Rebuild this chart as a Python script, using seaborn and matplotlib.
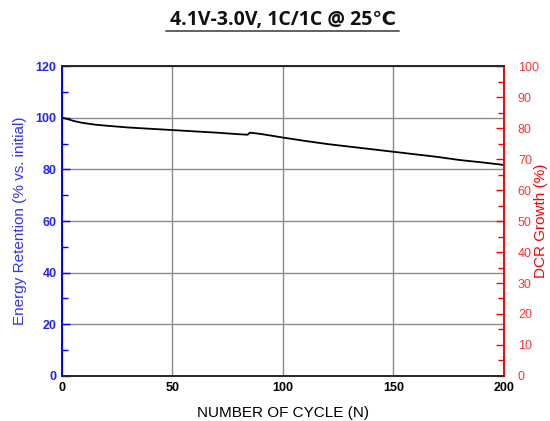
import matplotlib
matplotlib.use("Agg")
import matplotlib.pyplot as plt
import seaborn as sns
import pandas as pd
from matplotlib.ticker import MultipleLocator
from matplotlib.lines import Line2D

# cycle data
cycle = [0, 2, 5, 8, 10, 15, 20, 30, 40, 50, 60, 70, 80, 84, 85, 90, 100,
         110, 120, 130, 140, 150, 160, 170, 180, 190, 200]
energy = [100, 99.6, 98.8, 98.2, 97.9, 97.3, 96.9, 96.2, 95.7, 95.2, 94.7, 94.2,
          93.6, 93.4, 94.2, 93.7, 92.3, 91.0, 89.8, 88.8, 87.8, 86.8, 85.8,
          84.8, 83.6, 82.7, 81.7]

df = pd.DataFrame({"cycle": cycle, "energy": energy})

sns.set_style("white")
plt.rcParams['font.family'] = ['Liberation Sans', 'DejaVu Sans']

fig = plt.figure(figsize=(5.5, 4.21), dpi=100)
ax = fig.add_axes([0.1127, 0.1069, 0.8036, 0.7363])

sns.lineplot(data=df, x="cycle", y="energy", ax=ax, color="black", linewidth=1.3)

ax.set_xlim(0, 200)
ax.set_ylim(0, 120)
ax.xaxis.set_major_locator(MultipleLocator(50))
ax.xaxis.set_minor_locator(MultipleLocator(25))
ax.yaxis.set_major_locator(MultipleLocator(20))
ax.yaxis.set_minor_locator(MultipleLocator(10))
ax.grid(True, which="major", color="#8c8c8c", linewidth=1)
ax.tick_params(which="both", direction="in", top=False, right=False)
ax.tick_params(which="major", length=6, width=1)
ax.tick_params(which="minor", length=4, width=1)
ax.tick_params(axis="y", which="both", colors="blue", labelcolor="#2222ff", pad=4)
ax.tick_params(axis="x", which="both", colors="black", pad=4)
for lab in ax.get_xticklabels() + ax.get_yticklabels():
    lab.set_fontweight("bold")
    lab.set_fontsize(9)

ax.spines["left"].set_color("blue")
ax.spines["right"].set_color("red")
for s in ax.spines.values():
    s.set_linewidth(1.2)

ax.set_xlabel("NUMBER OF CYCLE (N)", fontsize=11, color="black", labelpad=9)
ax.set_ylabel("Energy Retention (% vs. initial)", fontsize=11, color="#3333ff", labelpad=6)

ax2 = ax.twinx()
ax2.set_ylim(0, 100)
ax2.yaxis.set_major_locator(MultipleLocator(10))
ax2.yaxis.set_minor_locator(MultipleLocator(5))
ax2.tick_params(which="both", direction="in", colors="red", labelcolor="#ff3333", pad=10)
ax2.tick_params(which="major", length=6, width=1)
ax2.tick_params(which="minor", length=4, width=1)
for lab in ax2.get_yticklabels():
    lab.set_fontsize(9)
ax2.spines["right"].set_color("red")
ax2.spines["left"].set_color("blue")
for s in ax2.spines.values():
    s.set_linewidth(1.2)
ax2.set_ylabel("DCR Growth (%)", fontsize=11, color="red")
ax2.yaxis.set_label_coords(1.068, 0.5)

fig.text(0.514, 0.953, "4.1V-3.0V, 1C/1C @ 25\u2103", ha="center", va="center",
         fontsize=14, fontweight="bold", family=["Open Sans", "DejaVu Sans"],
         color="#111111")
fig.add_artist(Line2D([0.302, 0.726], [0.926, 0.926], color="#555555", linewidth=1.3))

fig.savefig("out.png", dpi=100)
